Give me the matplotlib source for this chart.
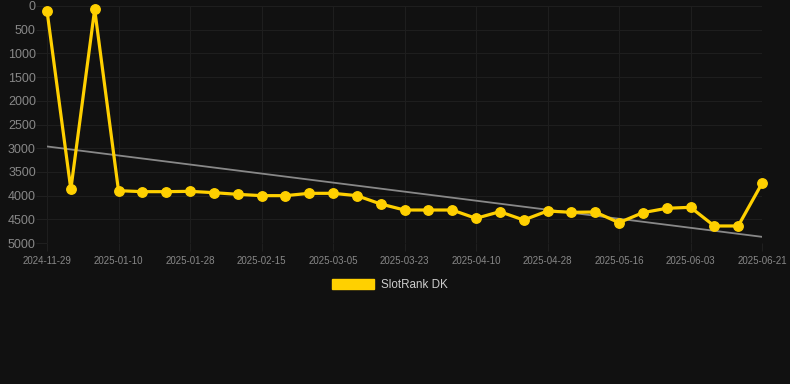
import numpy as np
import matplotlib
matplotlib.use("Agg")
import matplotlib.pyplot as plt
from matplotlib.patches import Patch

plt.rcParams["font.family"] = ["Liberation Sans", "DejaVu Sans"]

# SlotRank DK rank history (lower is better, axis inverted)
dates = ["2024-11-29", "2024-12-13", "2024-12-27",
         "2025-01-10", "2025-01-16", "2025-01-22", "2025-01-28", "2025-02-03",
         "2025-02-09", "2025-02-15", "2025-02-21", "2025-02-27", "2025-03-05",
         "2025-03-11", "2025-03-17", "2025-03-23", "2025-03-29", "2025-04-04",
         "2025-04-10", "2025-04-16", "2025-04-22", "2025-04-28", "2025-05-04",
         "2025-05-10", "2025-05-16", "2025-05-22", "2025-05-28", "2025-06-03",
         "2025-06-09", "2025-06-15", "2025-06-21"]
ranks = [100, 3867, 70,
         3896, 3917, 3917, 3910, 3938,
         3973, 4001, 4001, 3952, 3952,
         4001, 4177, 4304, 4304, 4304,
         4480, 4339, 4515, 4325, 4353,
         4346, 4571, 4360, 4268, 4247,
         4641, 4641, 3741]
y_ticks = [0, 500, 1000, 1500, 2000, 2500, 3000, 3500, 4000, 4500, 5000]
series_name = "SlotRank DK"

bg = "#111111"
gold = "#ffd000"
x = np.arange(len(dates))

fig = plt.figure(figsize=(7.9, 3.84), dpi=100, facecolor=bg)
ax = fig.add_axes([47 / 790, 1 - 243 / 384, (762 - 47) / 790, (243 - 6) / 384])
ax.set_facecolor(bg)

# linear trend through the data
k, b = np.polyfit(x, ranks, 1)
ax.plot(x, k * x + b, color="#888888", lw=1.3, zorder=2)

ax.plot(x, ranks, color=gold, lw=2.3, marker="o", ms=6.8,
        solid_joinstyle="miter", clip_on=False, zorder=3)

ax.set_xlim(0, len(dates) - 1)
ax.set_ylim(5000, 0)
ax.set_yticks(y_ticks)
ax.set_xticks(x[::3])
ax.set_xticklabels(dates[::3])

ax.grid(True, color="#1f1f1f", lw=0.7)
for s in ax.spines.values():
    s.set_visible(False)
ax.tick_params(axis="y", colors="#1f1f1f", labelcolor="#888888",
               labelsize=9, length=8, pad=0)
ax.tick_params(axis="x", colors="#1f1f1f", labelcolor="#888888",
               labelsize=7, length=6, pad=3)

fig.legend(handles=[Patch(facecolor=gold, edgecolor=gold)], labels=[series_name],
           loc="center", bbox_to_anchor=(390 / 790, 1 - 285 / 384),
           frameon=False, handlelength=3.6, handleheight=0.95,
           handletextpad=0.55, labelcolor="#cccccc", fontsize=8.4)

fig.savefig("out.png", dpi=100, facecolor=bg)
